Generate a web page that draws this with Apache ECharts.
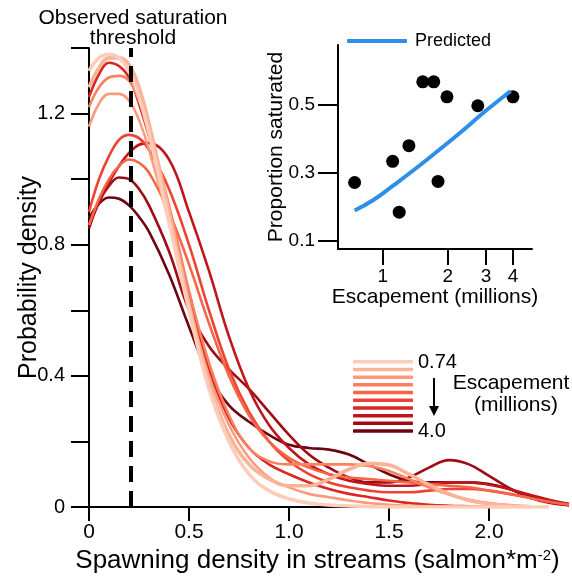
<!DOCTYPE html>
<html>
<head>
<meta charset="utf-8">
<title>Spawning density</title>
<script src="https://cdn.jsdelivr.net/npm/echarts@6.0.0/dist/echarts.min.js"></script>
<style>
  html, body { margin: 0; padding: 0; background: #fff; }
  #chart { width: 572px; height: 578px; }
</style>
</head>
<body>
<div id="chart"></div>
<script>
// spawning density grid (salmon per m2), finer near the peaks
const densityX = [0, 0.05, 0.1, 0.15, 0.2, 0.25, 0.3, 0.4, 0.5, 0.6, 0.7, 0.8, 0.9, 1.0, 1.1, 1.2,
  1.3, 1.4, 1.5, 1.6, 1.7, 1.8, 1.9, 2.0, 2.1, 2.2, 2.3, 2.4]

// escapement of each year, millions (light -> dark)
const escapement = [0.74, 1.11, 1.19, 1.32, 1.53, 1.72, 1.80, 1.98, 2.75, 4.0]
const escapementLabels = ['0.74', '1.11', '1.19', '1.32', '1.53', '1.72', '1.80', '1.98', '2.75', '4.0']
const curveColors = ['#fdcdb9', '#fcb398', '#fc9b7c', '#fb8060', '#f86446',
  '#ee4332', '#d92723', '#bf151b', '#9e0c14', '#6b0510']

// probability density curves, one per year
const dens0 = [1.33, 1.37, 1.38, 1.37, 1.33, 1.25, 1.14, 0.87, 0.6, 0.36, 0.2, 0.1, 0.05, 0.025, 0.012, 0.006, 0.003, 0.001, 0, 0, 0, 0, 0, 0, 0, 0, 0, null]
const dens1 = [1.28, 1.34, 1.37, 1.37, 1.35, 1.28, 1.17, 0.9, 0.62, 0.38, 0.22, 0.13, 0.085, 0.065, 0.065, 0.085, 0.115, 0.133, 0.128, 0.1, 0.068, 0.04, 0.02, 0.01, 0.004, 0.001, null, null]
const dens2 = [1.16, 1.23, 1.26, 1.26, 1.24, 1.18, 1.09, 0.87, 0.62, 0.4, 0.25, 0.15, 0.09, 0.06, 0.04, 0.03, 0.02, 0.012, 0.007, 0.004, 0.002, 0.001, 0, 0, 0, null, null, null]
const dens3 = [1.22, 1.28, 1.31, 1.315, 1.3, 1.24, 1.15, 0.92, 0.66, 0.44, 0.28, 0.18, 0.14, 0.13, 0.13, 0.13, 0.13, 0.125, 0.11, 0.085, 0.06, 0.038, 0.022, 0.012, 0.006, 0.002, null, null]
const dens4 = [0.86, 0.94, 1.0, 1.04, 1.06, 1.05, 1.02, 0.9, 0.74, 0.56, 0.4, 0.28, 0.2, 0.15, 0.12, 0.1, 0.09, 0.085, 0.08, 0.075, 0.07, 0.065, 0.06, 0.05, 0.04, 0.028, 0.016, 0.007]
const dens5 = [0.9, 1.0, 1.07, 1.12, 1.135, 1.125, 1.09, 0.97, 0.8, 0.6, 0.42, 0.29, 0.2, 0.14, 0.1, 0.075, 0.06, 0.05, 0.045, 0.045, 0.05, 0.055, 0.055, 0.05, 0.04, 0.028, 0.016, 0.008]
const dens6 = [1.25, 1.32, 1.355, 1.345, 1.31, 1.23, 1.13, 0.9, 0.64, 0.42, 0.27, 0.18, 0.13, 0.1, 0.075, 0.055, 0.04, 0.03, 0.02, 0.012, 0.007, 0.004, 0.002, 0, 0, null, null, null]
const dens7 = [0.86, 0.93, 0.99, 1.04, 1.08, 1.105, 1.11, 1.06, 0.9, 0.72, 0.52, 0.36, 0.25, 0.18, 0.13, 0.1, 0.08, 0.07, 0.065, 0.065, 0.07, 0.075, 0.075, 0.068, 0.055, 0.038, 0.022, 0.01]
const dens8 = [0.85, 0.93, 0.98, 1.005, 1.0, 0.97, 0.92, 0.78, 0.6, 0.49, 0.42, 0.36, 0.29, 0.22, 0.16, 0.12, 0.09, 0.075, 0.075, 0.09, 0.12, 0.143, 0.13, 0.095, 0.058, 0.03, 0.013, 0.005]
const dens9 = [0.88, 0.925, 0.944, 0.94, 0.92, 0.885, 0.84, 0.71, 0.55, 0.4, 0.31, 0.26, 0.22, 0.19, 0.18, 0.175, 0.16, 0.13, 0.1, 0.08, 0.075, 0.075, 0.075, 0.07, 0.055, 0.035, 0.018, 0.006]
const curves = [dens0, dens1, dens2, dens3, dens4, dens5, dens6, dens7, dens8, dens9]

// observed saturation threshold and axis ticks
const threshold = 0.21
const xAxisEnd = 2.2
const xTickValues = [0, 0.5, 1.0, 1.5, 2.0]
const yLabelValues = [0, 0.4, 0.8, 1.2]

// inset: proportion saturated vs escapement
const satY = [0.272, 0.334, 0.185, 0.38, 0.567, 0.567, 0.275, 0.523, 0.497, 0.523]
const predX = [0.74, 0.9, 1.1, 1.4, 1.8, 2.3, 2.9, 3.4, 3.9]
const predY = [0.19, 0.22, 0.26, 0.31, 0.365, 0.42, 0.475, 0.51, 0.54]
const insetXTicks = [1, 2, 3, 4]
const insetYTicks = [0.1, 0.3, 0.5]

const FONT = 'Liberation Sans, Arial, Helvetica, sans-serif'
const black = '#000'

const chart = echarts.init(document.getElementById('chart'))

const fmt = v => (v === 0 ? '0' : v.toFixed(1))

// light curves drawn last so they sit on top
const curveSeries = []
for (let i = curves.length - 1; i >= 0; i--) {
  curveSeries.push({
    name: escapementLabels[i],
    type: 'line',
    xAxisIndex: 0,
    yAxisIndex: 0,
    data: densityX.map((x, j) => [x, curves[i][j]]),
    smooth: 0.4,
    showSymbol: false,
    silent: true,
    lineStyle: { color: curveColors[i], width: i < 2 ? 3.6 : 2.6 },
    itemStyle: { color: curveColors[i] }
  })
}

chart.setOption({
  animation: false,
  textStyle: { fontFamily: FONT, color: black },
  grid: [
    { left: 89, top: 48, width: 480, height: 459, outerBoundsMode: 'none' },
    { left: 338, top: 45, width: 194, height: 204, outerBoundsMode: 'none' }
  ],
  legend: [
    {
      data: escapementLabels,
      orient: 'vertical',
      left: 353,
      top: 360,
      padding: 0,
      itemWidth: 60,
      itemHeight: 3.5,
      itemGap: 4.2,
      icon: 'roundRect',
      selectedMode: false,
      formatter: () => '',
      textStyle: { fontSize: 3, lineHeight: 3 }
    },
    {
      data: [{ name: 'Predicted', icon: 'roundRect' }],
      left: 347,
      top: 32,
      padding: 0,
      itemWidth: 60,
      itemHeight: 4,
      itemGap: 8,
      selectedMode: false,
      textStyle: { fontSize: 18, color: black, fontFamily: FONT, padding: [0, 0, 0, 3] }
    }
  ],
  xAxis: [
    {
      type: 'value',
      gridIndex: 0,
      min: 0,
      max: 2.4,
      axisLine: { show: false },
      axisTick: { show: true, customValues: xTickValues, length: 14, lineStyle: { color: black, width: 2 } },
      axisLabel: { customValues: xTickValues, formatter: fmt, fontSize: 21, margin: 15, color: black },
      splitLine: { show: false },
      name: 'Spawning density in streams (salmon*m{sup|-2})',
      nameLocation: 'middle',
      nameGap: 41,
      nameMoveOverlap: false,
      nameTextStyle: {
        fontSize: 26,
        color: black,
        padding: [0, 23, 0, 0],
        rich: { sup: { fontSize: 15, verticalAlign: 'top', color: black } }
      }
    },
    {
      type: 'log',
      gridIndex: 1,
      logBase: 10,
      min: 0.62,
      max: 4.9,
      axisLine: { show: true, lineStyle: { color: black, width: 2 } },
      axisTick: { show: true, customValues: insetXTicks, length: 16, lineStyle: { color: black, width: 2 } },
      axisLabel: { customValues: insetXTicks, fontSize: 19, margin: 18, color: black },
      splitLine: { show: false },
      name: 'Escapement (millions)',
      nameLocation: 'middle',
      nameGap: 38,
      nameMoveOverlap: false,
      nameTextStyle: { fontSize: 21, color: black }
    }
  ],
  yAxis: [
    {
      type: 'value',
      gridIndex: 0,
      min: 0,
      max: 1.4,
      interval: 0.2,
      axisLine: { show: true, lineStyle: { color: black, width: 2 } },
      axisTick: { show: true, length: 18, lineStyle: { color: black, width: 2 } },
      axisLabel: { customValues: yLabelValues, formatter: fmt, fontSize: 20, margin: 24, color: black },
      splitLine: { show: false },
      name: 'Probability density',
      nameLocation: 'middle',
      nameGap: 47,
      nameMoveOverlap: false,
      nameTextStyle: { fontSize: 25, color: black }
    },
    {
      type: 'value',
      gridIndex: 1,
      min: 0.077,
      max: 0.675,
      axisLine: { show: true, lineStyle: { color: black, width: 2 } },
      axisTick: { show: true, customValues: insetYTicks, length: 20, lineStyle: { color: black, width: 2 } },
      axisLabel: { customValues: insetYTicks, formatter: v => v.toFixed(1), fontSize: 19, margin: 23, color: black },
      splitLine: { show: false },
      name: 'Proportion saturated',
      nameLocation: 'middle',
      nameGap: 51,
      nameMoveOverlap: false,
      nameTextStyle: { fontSize: 21, color: black }
    }
  ],
  series: [
    // x axis line stops at 2.2, curves run past it
    {
      type: 'line',
      xAxisIndex: 0,
      yAxisIndex: 0,
      data: [[0, 0], [xAxisEnd, 0]],
      showSymbol: false,
      silent: true,
      lineStyle: { color: black, width: 2 },
      markLine: {
        silent: true,
        symbol: 'none',
        label: { show: false },
        lineStyle: { color: black, width: 4, type: [16, 9] },
        data: [{ xAxis: threshold }]
      }
    },
    ...curveSeries,
    {
      name: 'Predicted',
      type: 'line',
      xAxisIndex: 1,
      yAxisIndex: 1,
      data: predX.map((x, i) => [x, predY[i]]),
      smooth: true,
      showSymbol: false,
      silent: true,
      lineStyle: { color: '#2e8fe6', width: 4 },
      itemStyle: { color: '#2e8fe6' }
    },
    {
      type: 'scatter',
      xAxisIndex: 1,
      yAxisIndex: 1,
      data: escapement.map((e, i) => [e, satY[i]]),
      symbolSize: 13,
      itemStyle: { color: black, opacity: 1 }
    }
  ],
  graphic: [
    {
      type: 'text',
      x: 133,
      y: 8,
      style: {
        text: 'Observed saturation\nthreshold',
        font: '21px ' + FONT,
        lineHeight: 20,
        align: 'center',
        fill: black
      }
    },
    { type: 'text', x: 418, y: 362, style: { text: '0.74', font: '20px ' + FONT, verticalAlign: 'middle', fill: black } },
    { type: 'text', x: 418, y: 431, style: { text: '4.0', font: '20px ' + FONT, verticalAlign: 'middle', fill: black } },
    { type: 'text', x: 511, y: 383, style: { text: 'Escapement', font: '21px ' + FONT, align: 'center', verticalAlign: 'middle', fill: black } },
    { type: 'text', x: 516, y: 405, style: { text: '(millions)', font: '21px ' + FONT, align: 'center', verticalAlign: 'middle', fill: black } },
    // arrow from 0.74 down to 4.0
    { type: 'line', shape: { x1: 434, y1: 378, x2: 434, y2: 409 }, style: { stroke: black, lineWidth: 2 } },
    { type: 'polygon', shape: { points: [[429, 406], [439, 406], [434, 416]] }, style: { fill: black } }
  ]
})
</script>
</body>
</html>
